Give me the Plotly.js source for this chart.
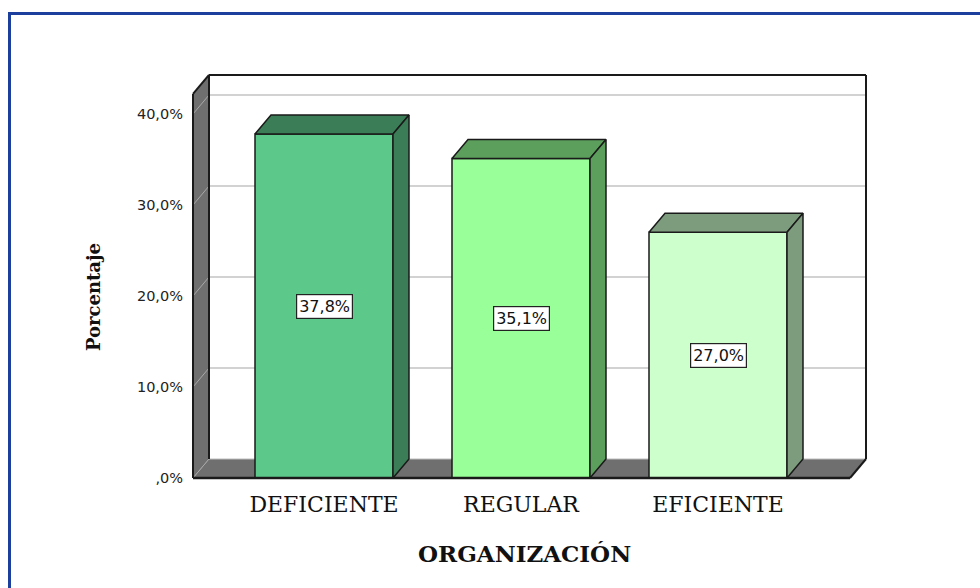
<!DOCTYPE html>
<html>
<head>
<meta charset="utf-8">
<script src="https://cdn.plot.ly/plotly-3.0.1.min.js"></script>
<style>
  html, body { margin: 0; padding: 0; background: #ffffff; }
  #wrap { position: relative; width: 980px; height: 588px; overflow: hidden; }
  #chart { position: absolute; left: 0; top: 0; width: 980px; height: 588px; }
  #frame { position: absolute; left: 8px; top: 12px; width: 990px; height: 600px;
           border-left: 3px solid #1c3f9d; border-top: 3px solid #1c3f9d; pointer-events: none; }
</style>
</head>
<body>
<div id="wrap">
  <div id="chart"></div>
  <div id="frame"></div>
</div>
<script>
// ---- data ----
const categories = ["DEFICIENTE", "REGULAR", "EFICIENTE"];
const percentages = [37.8, 35.1, 27.0];
const tickValues = [0, 10, 20, 30, 40];
const tickLabels = [",0%", "10,0%", "20,0%", "30,0%", "40,0%"];
const frontColors = ["#5cc98b", "#99ff99", "#ccffcc"];
const depthColors = ["#3a7d56", "#5c9e5c", "#7d9b7d"];
const xTitle = "ORGANIZACIÓN";
const yTitle = "Porcentaje";

// ---- geometry (pixel calibration of the pseudo-3D frame) ----
const W = 980, H = 588;
const L = 186, R = 104, T = 65, B = 99;
const PXX = 197, PXY = 9.1;         // px per x unit, px per y unit
const X0PX = 324, Y0PX = 478;       // pixel of x=0, y=0 (front plane)
const DX = 16 / PXX, DY = 19 / PXY; // depth offset in data units
const XL = (193 - X0PX) / PXX;      // left wall (front plane)
const XR = (850 - X0PX) / PXX;      // right end (front plane)
const WT = 42.2;                    // wall top (front plane)
const BW = 138 / PXX;               // bar width

const xRange = [(L - X0PX) / PXX, (W - R - X0PX) / PXX];
const yRange = [(Y0PX - (H - B)) / PXY, (Y0PX - T) / PXY];
const xs = categories.map((c, i) => i);

// ---- frame shapes (walls, floor, gridlines) ----
const shapes = [];
const poly = pts => "M" + pts.map(p => p[0] + "," + p[1]).join(" L") + " Z";
shapes.push({type: "path", xref: "x", yref: "y", layer: "below",
  path: poly([[XL, 0], [XR, 0], [XR + DX, DY], [XL + DX, DY]]),
  fillcolor: "#6f6f6f", line: {width: 0}});
shapes.push({type: "path", xref: "x", yref: "y", layer: "below",
  path: poly([[XL, 0], [XL, WT], [XL + DX, WT + DY], [XL + DX, DY]]),
  fillcolor: "#6f6f6f", line: {width: 0}});
tickValues.forEach(v => {
  if (v > 0) {
    shapes.push({type: "line", xref: "x", yref: "y", layer: "below",
      x0: XL + DX, y0: v + DY, x1: XR + DX, y1: v + DY,
      line: {color: "#d2d2d2", width: 2}});
  }
  shapes.push({type: "line", xref: "x", yref: "y", layer: "below",
    x0: XL, y0: v, x1: XL + DX, y1: v + DY,
    line: {color: "#a8a8a8", width: 1}});
});
shapes.push({type: "line", xref: "x", yref: "y", layer: "below",
  x0: XL + DX, y0: DY, x1: XR + DX, y1: DY, line: {color: "#bdbdbd", width: 1}});
const blk = (x0, y0, x1, y1, w) => shapes.push({type: "line", xref: "x", yref: "y", layer: "below",
  x0, y0, x1, y1, line: {color: "#1a1a1a", width: w}});
blk(XL, 0, XL, WT, 2);
blk(XL, WT, XL + DX, WT + DY, 2);
blk(XL + DX, WT + DY, XR + DX, WT + DY, 2);
blk(XL + DX, DY, XL + DX, WT + DY, 2);
blk(XR + DX, DY, XR + DX, WT + DY, 2);
blk(XR, 0, XR + DX, DY, 2);

// ---- traces ----
const traces = [];
traces.push({
  type: "bar", x: xs, y: percentages, width: BW,
  marker: {color: frontColors, line: {color: "#1a1a1a", width: 1.5}},
  hoverinfo: "skip", showlegend: false
});
percentages.forEach((v, i) => {
  const x1 = xs[i] + BW / 2, x0 = xs[i] - BW / 2;
  traces.push({type: "scatter", mode: "lines", fill: "toself",
    x: [x0, x1, x1 + DX, x0 + DX, x0], y: [v, v, v + DY, v + DY, v],
    fillcolor: depthColors[i], line: {color: "#1a1a1a", width: 1.5},
    hoverinfo: "skip", showlegend: false});
  traces.push({type: "scatter", mode: "lines", fill: "toself",
    x: [x1, x1, x1 + DX, x1 + DX, x1], y: [0, v, v + DY, DY, 0],
    fillcolor: depthColors[i], line: {color: "#1a1a1a", width: 1.5},
    hoverinfo: "skip", showlegend: false});
});
traces.push({type: "scatter", mode: "lines", x: [XL, XR], y: [0, 0],
  line: {color: "#1a1a1a", width: 2.5}, hoverinfo: "skip", showlegend: false});

const annotations = percentages.map((v, i) => ({
  x: xs[i], y: v / 2, xref: "x", yref: "y",
  text: v.toFixed(1).replace(".", ",") + "%", showarrow: false,
  font: {family: "DejaVu Sans", size: 16, color: "#111"},
  bgcolor: "#ffffff", bordercolor: "#222", borderwidth: 1.2, borderpad: 2
}));
// axis titles
annotations.push({text: yTitle, textangle: -90, showarrow: false,
  xref: "paper", yref: "paper",
  x: (93 - L) / (W - L - R), y: (H - B - 297) / (H - T - B),
  xanchor: "center", yanchor: "middle",
  font: {family: "DejaVu Serif", size: 18, color: "#111", weight: "bold"}});
annotations.push({text: xTitle, showarrow: false,
  xref: "paper", yref: "paper",
  x: (524 - L) / (W - L - R), y: (H - B - 553) / (H - T - B),
  xanchor: "center", yanchor: "middle",
  font: {family: "DejaVu Serif", size: 23, color: "#111", weight: "bold"}});

const layout = {
  width: W, height: H,
  margin: {l: L, r: R, t: T, b: B, pad: 0},
  paper_bgcolor: "#ffffff", plot_bgcolor: "#ffffff",
  xaxis: {type: "linear", range: xRange, fixedrange: true,
    tickmode: "array", tickvals: xs, ticktext: categories,
    showgrid: false, zeroline: false, showline: false, ticks: "",
    tickfont: {family: "DejaVu Serif", size: 22, color: "#111"}},
  yaxis: {type: "linear", range: yRange, fixedrange: true,
    tickmode: "array", tickvals: tickValues, ticktext: tickLabels,
    showgrid: false, zeroline: false, showline: false, ticks: "",
    ticklabelstandoff: 2,
    tickfont: {family: "DejaVu Sans", size: 14.5, color: "#222"}},
  shapes: shapes,
  annotations: annotations,
  showlegend: false
};

Plotly.newPlot("chart", traces, layout, {staticPlot: true, displayModeBar: false});
</script>
</body>
</html>
